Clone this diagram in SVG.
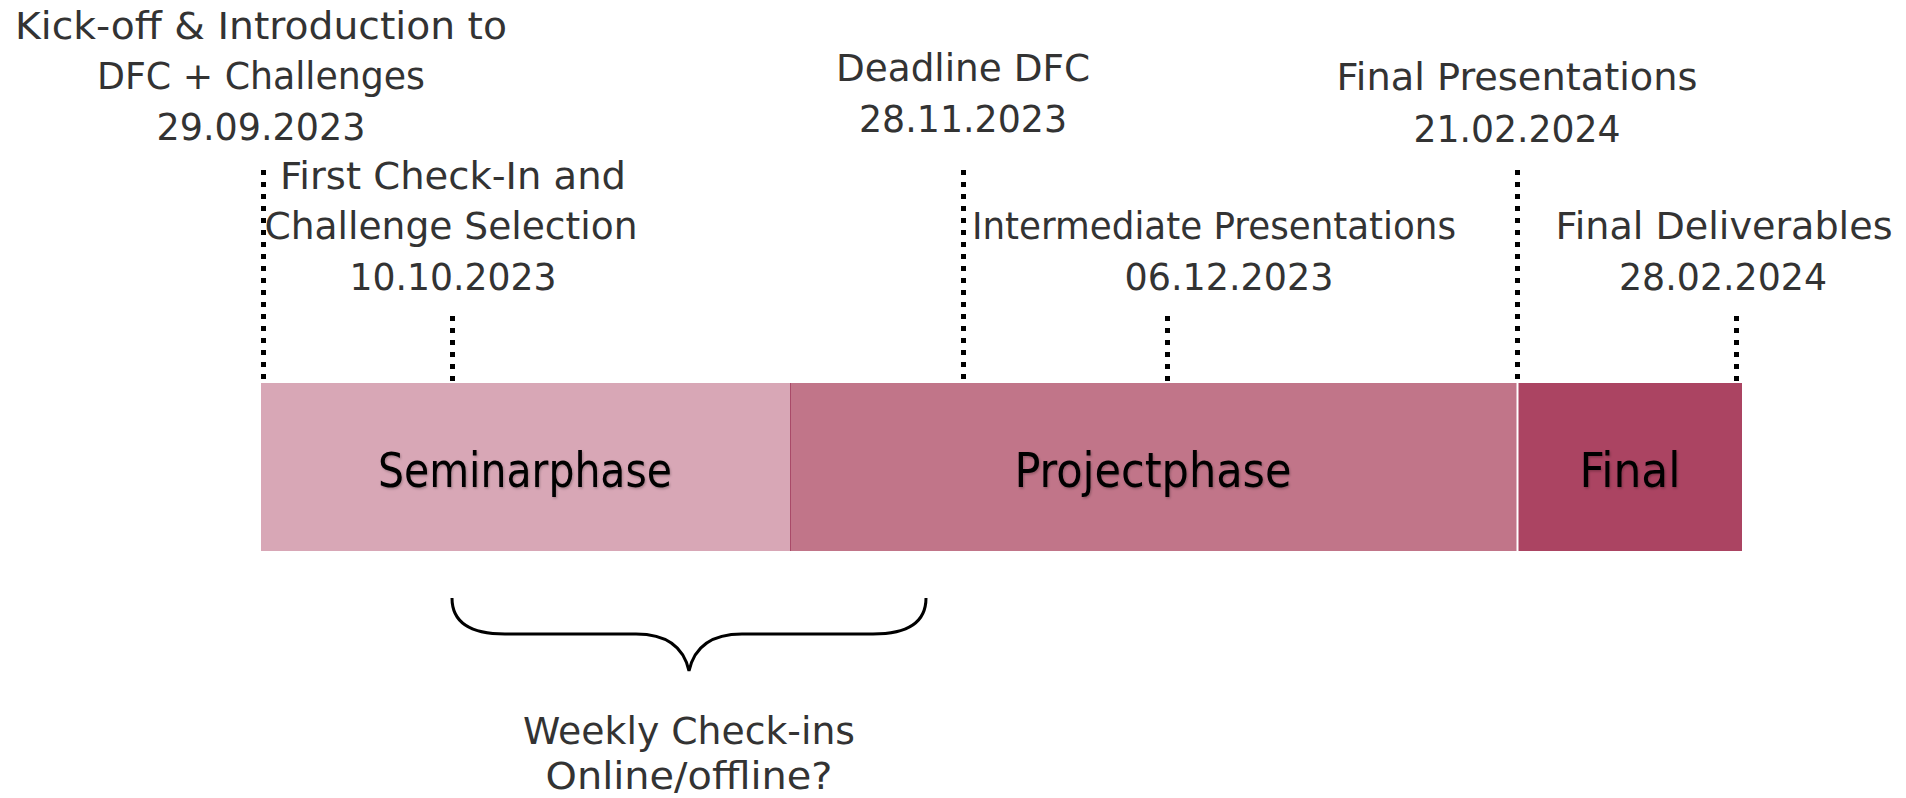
<svg xmlns="http://www.w3.org/2000/svg" width="1906" height="798" viewBox="0 0 1906 798">
<defs>
<filter id="sh" x="-5%" y="-20%" width="110%" height="140%">
<feDropShadow dx="1" dy="1.5" stdDeviation="1" flood-color="#000" flood-opacity="0.25"/>
</filter>
</defs>
<style>
.lbl{font-family:"DejaVu Sans",sans-serif;font-size:37px;fill:#333333;text-anchor:middle}
.bar{font-family:"DejaVu Sans Condensed","DejaVu Sans",sans-serif;font-stretch:condensed;font-size:48px;fill:#000000;text-anchor:middle;filter:url(#sh)}
.dot{stroke:#000;stroke-width:5;stroke-dasharray:5 7;fill:none}
.brace{stroke:#000;stroke-width:3;fill:none}
</style>
<rect width="1906" height="798" fill="#ffffff"/>
<g id="connectors">
<line class="dot" x1="263.5" y1="170" x2="263.5" y2="383"/>
<line class="dot" x1="452.5" y1="316" x2="452.5" y2="383"/>
<line class="dot" x1="963.5" y1="170" x2="963.5" y2="383"/>
<line class="dot" x1="1167.5" y1="316" x2="1167.5" y2="383"/>
<line class="dot" x1="1517.5" y1="170" x2="1517.5" y2="383"/>
<line class="dot" x1="1736.5" y1="316" x2="1736.5" y2="383"/>
</g>
<g id="seminarphase">
<rect x="261" y="383" width="529" height="168" fill="#D8A7B6"/>
<text class="bar" x="525" y="487" textLength="294" lengthAdjust="spacingAndGlyphs">Seminarphase</text>
</g>
<g id="projectphase">
<rect x="790" y="383" width="727" height="168" fill="#C17589"/>
<line x1="790.5" y1="383" x2="790.5" y2="551" stroke="#A94A68" stroke-width="1"/>
<text class="bar" x="1153" y="487" textLength="277" lengthAdjust="spacingAndGlyphs">Projectphase</text>
</g>
<g id="final">
<rect x="1518" y="383" width="224" height="168" fill="#AB4462"/>
<line x1="1517.5" y1="383" x2="1517.5" y2="551" stroke="#ffffff" stroke-width="2"/>
<text class="bar" x="1630" y="487" textLength="101" lengthAdjust="spacingAndGlyphs">Final</text>
</g>
<g id="kickoff">
<text class="lbl" x="261" y="39" textLength="492" lengthAdjust="spacingAndGlyphs">Kick-off &amp; Introduction to</text>
<text class="lbl" x="261" y="89" textLength="328" lengthAdjust="spacingAndGlyphs">DFC + Challenges</text>
<text class="lbl" x="261" y="140" textLength="209" lengthAdjust="spacingAndGlyphs">29.09.2023</text>
</g>
<g id="first-checkin">
<text class="lbl" x="453" y="189" textLength="346" lengthAdjust="spacingAndGlyphs">First Check-In and</text>
<text class="lbl" x="451" y="239" textLength="373" lengthAdjust="spacingAndGlyphs">Challenge Selection</text>
<text class="lbl" x="453" y="290" textLength="207" lengthAdjust="spacingAndGlyphs">10.10.2023</text>
</g>
<g id="deadline-dfc">
<text class="lbl" x="963" y="81" textLength="254" lengthAdjust="spacingAndGlyphs">Deadline DFC</text>
<text class="lbl" x="963" y="132" textLength="208" lengthAdjust="spacingAndGlyphs">28.11.2023</text>
</g>
<g id="intermediate">
<text class="lbl" x="1214" y="239" textLength="484" lengthAdjust="spacingAndGlyphs">Intermediate Presentations</text>
<text class="lbl" x="1229" y="290" textLength="209" lengthAdjust="spacingAndGlyphs">06.12.2023</text>
</g>
<g id="final-presentations">
<text class="lbl" x="1517" y="90" textLength="361" lengthAdjust="spacingAndGlyphs">Final Presentations</text>
<text class="lbl" x="1517" y="142" textLength="207" lengthAdjust="spacingAndGlyphs">21.02.2024</text>
</g>
<g id="final-deliverables">
<text class="lbl" x="1724" y="239" textLength="337" lengthAdjust="spacingAndGlyphs">Final Deliverables</text>
<text class="lbl" x="1723" y="290" textLength="208" lengthAdjust="spacingAndGlyphs">28.02.2024</text>
</g>
<g id="weekly-checkins">
<path class="brace" d="M452 598 C452 622 470 634 505 634 L636 634 C668 634 684 648 689 671 C694 648 710 634 742 634 L873 634 C908 634 926 622 926 598"/>
<text class="lbl" x="689" y="744" textLength="332" lengthAdjust="spacingAndGlyphs">Weekly Check-ins</text>
<text class="lbl" x="689" y="789" textLength="287" lengthAdjust="spacingAndGlyphs">Online/offline?</text>
</g>
</svg>
